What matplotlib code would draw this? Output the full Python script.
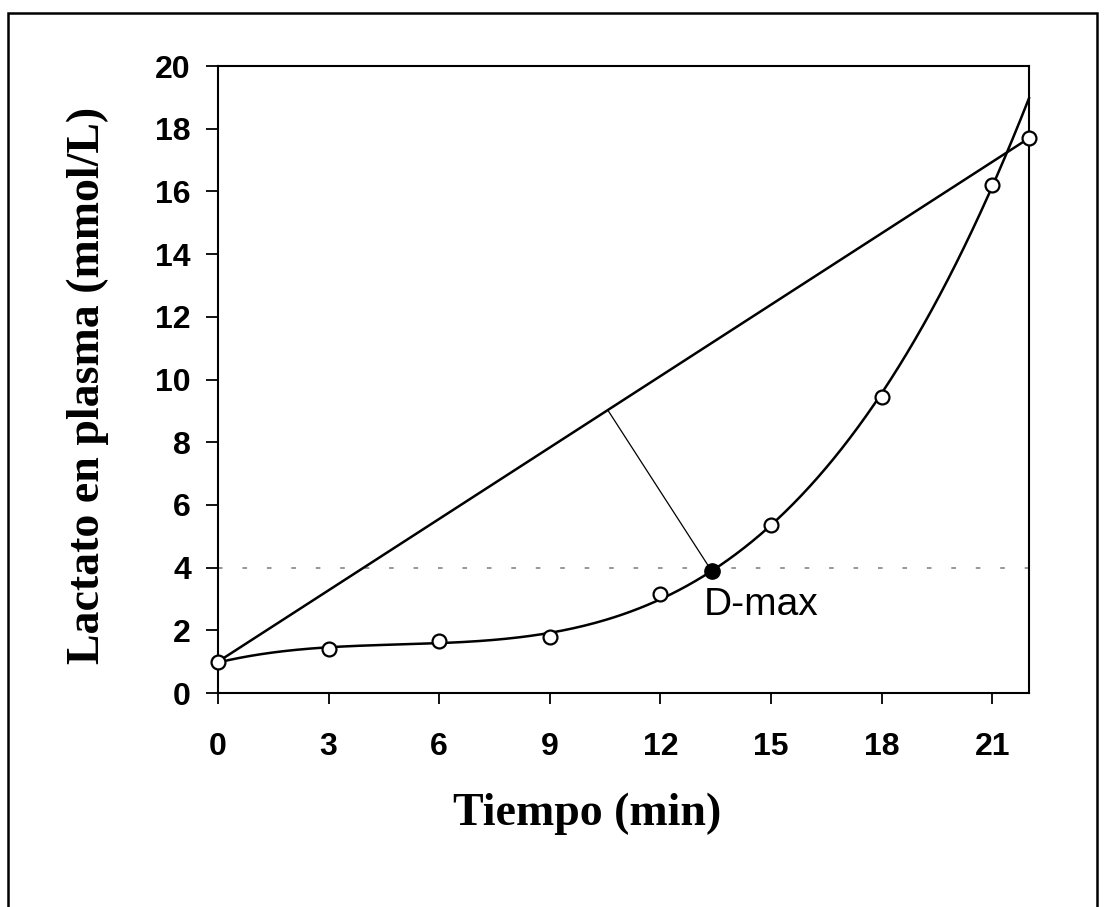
import numpy as np
import matplotlib
matplotlib.use("Agg")
import matplotlib.pyplot as plt
from matplotlib.patches import Rectangle

# lactate test: time (min) vs plasma lactate (mmol/L)
tiempo = [0, 3, 6, 9, 12, 15, 18, 21, 22]
lactato = [1.0, 1.4, 1.65, 1.8, 3.15, 5.35, 9.45, 16.2, 17.7]
umbral = 4.0  # reference level drawn as dotted line

xticks = [0, 3, 6, 9, 12, 15, 18, 21]
yticks = list(range(0, 21, 2))

x = np.array(tiempo, dtype=float)
y = np.array(lactato, dtype=float)

# third order fit of the lactate curve over the 3-min stages
coef = np.polyfit(x[:-1], y[:-1], 3)
poly = np.poly1d(coef)
xs = np.linspace(x[0], x[-1], 300)

# straight line from first to last sample
pendiente = (y[-1] - y[0]) / (x[-1] - x[0])

fig = plt.figure(figsize=(11.06, 9.07), dpi=100)
ax = fig.add_axes([0.1971, 0.2359, 0.7333, 0.6913])
ax.set_xlim(0, 22)
ax.set_ylim(0, 20)

# D-max: point of the curve farthest from the line (in display space)
sx = ax.transData.transform((1, 0))[0] - ax.transData.transform((0, 0))[0]
sy = ax.transData.transform((0, 1))[1] - ax.transData.transform((0, 0))[1]
dist = (pendiente * sy / sx * xs * sx - (poly(xs) - y[0]) * sy)
i_max = np.argmax(dist)
dmax_x, dmax_y = xs[i_max], poly(xs)[i_max]

# foot of the perpendicular on the straight line, display space
m = pendiente * sy / sx
px, py = dmax_x * sx, (dmax_y - y[0]) * sy
t = (px + m * py) / (1 + m * m)
pie_x, pie_y = t / sx, y[0] + m * t / sy

ax.axhline(umbral, color="#7a7a7a", lw=1.1, dashes=(3, 13), zorder=1)
ax.plot([x[0], x[-1]], [y[0], y[-1]], color="black", lw=1.8, zorder=2)
ax.plot(xs, poly(xs), color="black", lw=1.8, zorder=2, clip_on=False)
ax.plot([dmax_x, pie_x], [dmax_y, pie_y], color="black", lw=0.9, zorder=2)
ax.plot(x, y, "o", ms=10, mfc="white", mec="black", mew=1.6,
        zorder=3, clip_on=False)
ax.plot([dmax_x], [dmax_y], "o", ms=11, color="black", zorder=4)
ax.annotate("D-max", (dmax_x, dmax_y), xytext=(-6, -32),
            textcoords="offset points", ha="left", va="baseline",
            fontsize=28, family="Liberation Sans")

ax.set_xticks(xticks)
ax.set_yticks(yticks)
for s in ax.spines.values():
    s.set_linewidth(1.5)
ax.tick_params(axis="y", direction="out", length=8.6, width=1.3, pad=11)
ax.tick_params(axis="x", direction="out", length=8, width=1.3, pad=20)
for lab in ax.get_xticklabels() + ax.get_yticklabels():
    lab.set_fontfamily("Liberation Sans")
    lab.set_fontweight("bold")
    lab.set_fontsize(23)

fig.text(0.531, 1 - 825 / 907, "Tiempo (min)", ha="center", va="baseline",
         fontsize=33, fontweight="bold", family="Liberation Serif")
fig.text(0.079, 0.5755, "Lactato en plasma (mmol/L)", ha="center",
         va="center", rotation=90, fontsize=33, fontweight="bold",
         family="Liberation Serif")

# outer frame
fig.patches.append(Rectangle((8 / 1106, -0.05), 1089 / 1106, 1.05 - 13 / 907,
                             transform=fig.transFigure, fill=False,
                             lw=1.8, ec="black"))

fig.savefig("out.png", dpi=100)
